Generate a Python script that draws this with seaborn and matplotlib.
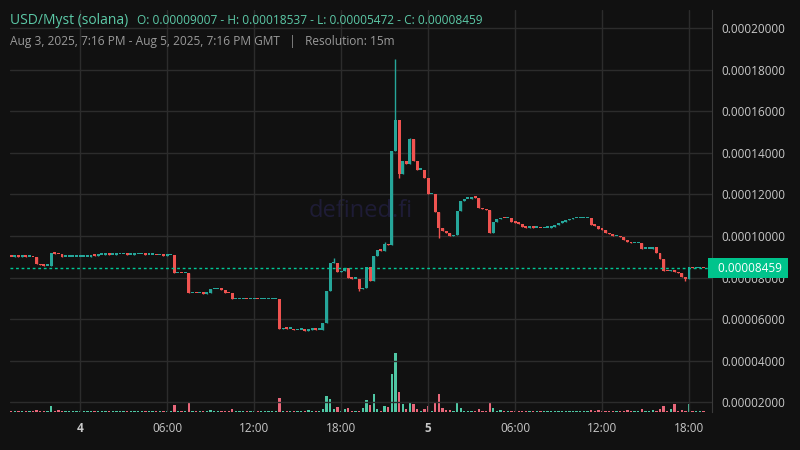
import numpy as np
import pandas as pd
import matplotlib
matplotlib.use("Agg")
import matplotlib.pyplot as plt
import matplotlib.dates as mdates
import seaborn as sns

# closes in units of 1e-5, 15m candles from Aug 3 19:15
closes = [
    9.0, 9.02, 9.0, 9.02, 9.0, 9.0, 8.98, 8.65, 8.6, 8.58, 8.58, 9.18,
    9.15, 9.12, 9.0, 9.0, 9.0, 9.0, 9.0, 9.0, 9.0, 9.0, 9.1, 9.05,
    9.1, 9.1, 9.12, 9.1, 9.1, 9.12, 9.12, 9.12, 9.1, 9.1, 9.12, 9.12,
    9.12, 9.1, 9.1, 9.1, 9.08, 9.08, 9.05, 9.08, 9.1, 8.22, 8.22, 8.2,
    8.2, 7.26, 7.26, 7.25, 7.26, 7.22, 7.25, 7.45, 7.45, 7.45, 7.42, 7.28,
    7.25, 6.97, 6.97, 6.97, 6.98, 6.97, 6.97, 6.97, 6.96, 6.97, 6.97, 6.97,
    6.97, 6.97, 5.53, 5.58, 5.55, 5.55, 5.48, 5.5, 5.5, 5.45, 5.5, 5.55,
    5.5, 5.5, 5.8, 7.36, 8.7, 8.72, 8.27, 8.3, 8.46, 7.98, 7.95, 7.95,
    7.45, 7.5, 8.5, 7.85, 9.04, 9.33, 9.3, 9.6, 9.55, 14.1, 15.6, 13.0,
    13.6, 13.45, 14.66, 13.6, 13.2, 13.2, 12.8, 12.0, 12.0, 11.15, 10.4, 10.25,
    10.15, 10.0, 10.05, 11.2, 11.68, 11.8, 11.8, 11.9, 11.85, 11.35, 11.3, 11.25,
    10.14, 10.67, 10.8, 10.87, 10.85, 10.85, 10.7, 10.65, 10.6, 10.43, 10.4, 10.45,
    10.4, 10.4, 10.38, 10.4, 10.4, 10.45, 10.55, 10.65, 10.7, 10.75, 10.8, 10.85,
    10.85, 10.85, 10.85, 10.85, 10.53, 10.5, 10.33, 10.3, 10.14, 10.08, 10.0, 10.0,
    9.95, 9.8, 9.7, 9.65, 9.65, 9.65, 9.38, 9.4, 9.4, 9.45, 9.18, 8.9,
    8.31, 8.3, 8.35, 8.27, 8.2, 8.03, 7.93, 8.5, 8.46, 8.46, 8.46, 8.459,
]
first_open = 9.007
wick_high = {106: 18.537, 89: 8.95, 110: 14.7, 103: 9.7}
wick_low = {96: 7.37, 78: 5.47, 186: 7.85, 118: 9.9, 107: 12.8}

# volume, relative heights
volumes = [
    1, 1, 1, 1, 1, 1, 1, 2.5, 1, 1, 1, 6,
    1, 2, 1, 1.5, 1, 1, 1, 1, 1, 1, 1, 1,
    1, 1, 1, 1.5, 1, 1, 1, 1, 1, 1, 1, 1,
    1, 1, 1, 1, 1, 1, 1, 1, 1, 7, 1, 1,
    1, 10, 1, 1.5, 1, 1, 1, 2.5, 1, 1, 1, 1,
    1, 3, 1, 1, 1, 1, 1, 1, 1, 1.5, 1, 1,
    1, 1, 14.5, 1, 1, 1, 1.5, 1, 1, 1, 2.5, 1,
    1, 1, 3, 16, 13, 3, 5, 1, 3, 4.5, 1, 1,
    1, 4.5, 12, 7, 18.5, 3, 1, 6, 5, 38, 59, 20.5,
    8.5, 3, 10, 8.5, 3.5, 1, 3.5, 6, 1, 9, 18.5, 4.5,
    2, 2.5, 1, 9.5, 4.5, 1.5, 1, 1, 1, 3.5, 1, 1,
    10, 4.5, 1, 2, 1, 1, 1.5, 1, 1.5, 1, 1.5, 1,
    1, 1, 1, 1, 1, 1, 1, 1, 1, 1, 1.5, 1,
    1, 1, 1, 1, 2.5, 1, 2.5, 1, 1, 1.5, 1, 1,
    1.5, 1, 2.5, 1, 1, 1, 3.5, 1, 1, 2.5, 1, 3.5,
    6, 1, 3, 8.5, 1, 2, 1, 8, 1, 1, 1, 1,
]

title = "USD/Myst (solana)"
ohlc_text = "O: 0.00009007 - H: 0.00018537 - L: 0.00005472 - C: 0.00008459"
sub_text = "Aug 3, 2025, 7:16 PM - Aug 5, 2025, 7:16 PM GMT   |   Resolution: 15m"
last_price = 8.459e-5
price_ticks = [2, 4, 6, 8, 10, 12, 14, 16, 18, 20]

BG = "#111111"
GREEN = "#26a69a"
RED = "#ef5350"
VGREEN = "#4fc7a4"
VRED = "#e8677a"

sns.set_style("dark")
plt.rcParams["font.family"] = ["Open Sans", "DejaVu Sans"]

times = pd.date_range("2025-08-03 19:15", periods=len(closes), freq="15min")
df = pd.DataFrame({"t": times, "close": np.array(closes) * 1e-5, "vol": volumes})
df["open"] = df["close"].shift(1).fillna(first_open * 1e-5)
df["high"] = df[["open", "close"]].max(axis=1)
df["low"] = df[["open", "close"]].min(axis=1)
for i, v in wick_high.items():
    df.loc[i, "high"] = v * 1e-5
for i, v in wick_low.items():
    df.loc[i, "low"] = v * 1e-5
df["up"] = df["close"] >= df["open"]
df["x"] = mdates.date2num(df["t"])

fig = plt.figure(figsize=(8, 4.5), dpi=100, facecolor=BG)
ax = fig.add_axes([10 / 800, 1 - 412 / 450, 702 / 800, 402 / 450])
ax.set_facecolor(BG)
vax = ax.twinx()

step = 15 / (24 * 60)
colors = np.where(df["up"], GREEN, RED)
ax.vlines(df["x"], df["low"], df["high"], colors=colors, linewidth=1, zorder=3)
body = (df["close"] - df["open"]).abs().clip(lower=0.07e-5)
ax.bar(df["x"], body, bottom=df[["open", "close"]].min(axis=1), width=step * 0.8,
       color=colors, linewidth=0, zorder=4)

vcolors = np.where(df["up"], VGREEN, VRED)
vax.bar(df["x"], df["vol"], width=step * 0.65, color=vcolors, linewidth=0)
vax.set_ylim(0, 402)
vax.set_yticks([])
vax.set_zorder(1)
ax.set_zorder(2)
ax.patch.set_visible(False)
fig.patch.set_facecolor(BG)

x0 = mdates.date2num(pd.Timestamp("2025-08-03 19:10"))
x1 = mdates.date2num(pd.Timestamp("2025-08-05 19:35"))
ax.set_xlim(x0, x1)
ax.set_ylim(1.54e-5, 20.87e-5)

ax.axhline(last_price, color="#00c896", linestyle=(0, (2, 2)), linewidth=1, zorder=5)

ax.yaxis.tick_right()
ax.set_yticks([p * 1e-5 for p in price_ticks])
ax.set_yticklabels([f"{p * 1e-5:.8f}" for p in price_ticks])
ticks = pd.date_range("2025-08-04", periods=8, freq="6h")
ax.set_xticks(mdates.date2num(ticks))
labels = ["4", "06:00", "12:00", "18:00", "5", "06:00", "12:00", "18:00"]
ax.set_xticklabels(labels)
for lab in ax.get_xticklabels():
    if lab.get_text() in ("4", "5"):
        lab.set_fontweight("bold")
ax.tick_params(colors="#c8c8c8", labelsize=8.5, length=0, pad=7)
ax.grid(True, color="#2c2c2c", linewidth=1)
for s in ax.spines.values():
    s.set_visible(False)
for s in vax.spines.values():
    s.set_visible(False)
ax.spines["right"].set_visible(True)
ax.spines["right"].set_color("#3a3a3a")

ax.text(0.5, 0.5, "defined.fi", transform=ax.transAxes, ha="center", va="center",
        fontsize=17, color="#1e1c36", zorder=0)

ax.text(1.0, last_price, f"  {last_price:.8f} ", transform=ax.get_yaxis_transform(),
        ha="left", va="center", fontsize=8.5, color="#ffffff", zorder=10,
        bbox=dict(boxstyle="square,pad=0.3", fc="#00c48c", ec="none"), clip_on=False)

fig.text(10 / 800, 1 - 20 / 450, title, color="#5cc9a7", fontsize=10, va="center")
fig.text(137 / 800, 1 - 20 / 450, ohlc_text, color="#5cc9a7", fontsize=8.6, va="center")
fig.text(10 / 800, 1 - 41 / 450, sub_text, color="#9a9a9a", fontsize=8.6, va="center")

fig.savefig("out.png", dpi=100, facecolor=BG)
